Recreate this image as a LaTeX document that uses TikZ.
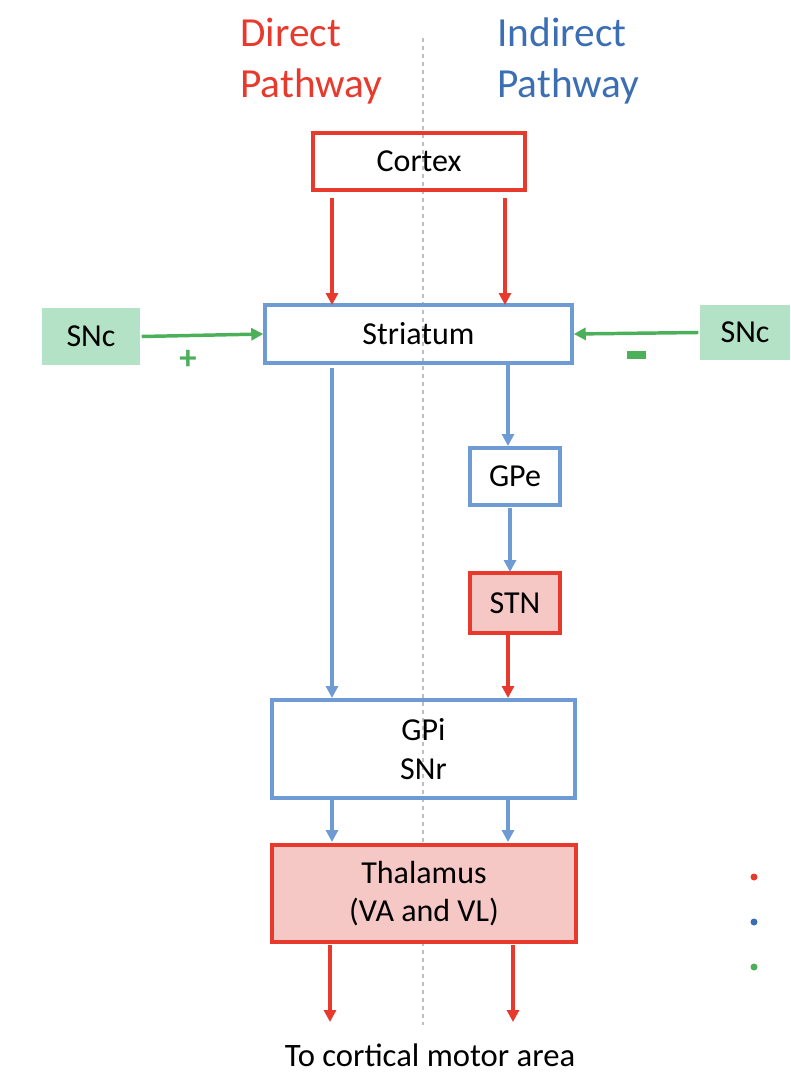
\documentclass[tikz,border=0pt]{standalone}
\usepackage{fontspec}
\setmainfont{Carlito}
\usetikzlibrary{arrows.meta}
\definecolor{cred}{HTML}{E8392D}
\definecolor{cblue}{HTML}{6E9BD3}
\definecolor{tblue}{HTML}{3C6EB4}
\definecolor{cgreen}{HTML}{4CAF5A}
\definecolor{gfill}{HTML}{B4E2C6}
\definecolor{pfill}{HTML}{F5C8C5}
\tikzset{
 bx/.style={draw, line width=2.6pt, inner sep=0pt, font=\fontsize{24}{29}\selectfont, align=center},
 rbox/.style={bx, draw=cred},
 bbox/.style={bx, draw=cblue},
 ra/.style={draw=cred, line width=2.6pt, -{Triangle[length=9pt,width=9pt]}},
 ba/.style={draw=cblue, line width=2.6pt, -{Triangle[length=9pt,width=9pt]}},
 ga/.style={draw=cgreen, line width=2.6pt, -{Triangle[length=9pt,width=9pt]}},
 ttl/.style={font=\fontsize{31}{38}\selectfont, align=left, anchor=north west, inner sep=0pt},
}
\begin{document}
\begin{tikzpicture}[x=0.75pt,y=-0.75pt]
\useasboundingbox (0,0) rectangle (790,1088);
\draw[gray!50, dashed, line width=0.8pt] (423,38) -- (423,1025);
\node[ttl, text=cred] (dt) at (240,18) {Direct\\Pathway};
\node[ttl, text=tblue] (it) at (497,18) {Indirect\\Pathway};
\node[rbox, minimum width=212*0.75pt, minimum height=57*0.75pt] (cx) at (419,161.5) {Cortex};
\node[bbox, minimum width=307*0.75pt, minimum height=58*0.75pt] (st) at (418.5,334) {Striatum};
\node[bx, draw=none, fill=gfill, minimum width=98*0.75pt, minimum height=57*0.75pt] (snl) at (91,336.5) {SNc};
\node[bx, draw=none, fill=gfill, minimum width=90*0.75pt, minimum height=55*0.75pt] (snr) at (745,332.5) {SNc};
\node[bbox, minimum width=90*0.75pt, minimum height=57*0.75pt] (gpe) at (515,476.5) {GPe};
\node[rbox, fill=pfill, minimum width=90*0.75pt, minimum height=60*0.75pt] (stn) at (515,603) {STN};
\node[bbox, minimum width=303*0.75pt, minimum height=98*0.75pt] (gpi) at (423.5,749) {GPi\\SNr};
\node[rbox, fill=pfill, minimum width=304*0.75pt, minimum height=97*0.75pt] (th) at (424,893.5) {Thalamus\\(VA and VL)};
\node[font=\fontsize{24.5}{29}\selectfont] (to) at (430,1055) {To cortical motor area};
\coordinate (e1) at (330,1022); \coordinate (e2) at (513,1022);
\draw[ra] (332,198) -- (332,305);
\draw[ra] (505,198) -- (505,305);
\draw[ba] (332,368) -- (332,698);
\draw[ba] (508,365) -- (508,446);
\draw[ba] (510,508) -- (510,572);
\draw[ra] (508,635) -- (508,698);
\draw[ba] (332,800) -- (332,842);
\draw[ba] (508,800) -- (508,842);
\draw[ra] (330,945) -- (e1);
\draw[ra] (513,945) -- (e2);
\draw[ga] (snl.east) -- (st.west);
\draw[ga] (snr.west) -- (st.east);
\node[text=cgreen, font=\bfseries\fontsize{26}{30}\selectfont] (plus) at (188,360) {+};
\fill[cgreen] (627,351) rectangle (646,359);
\fill[cred] (754,877) circle (3.5);
\fill[tblue] (754,922) circle (3.5);
\fill[cgreen] (754,967) circle (3.5);
\end{tikzpicture}
\end{document}
